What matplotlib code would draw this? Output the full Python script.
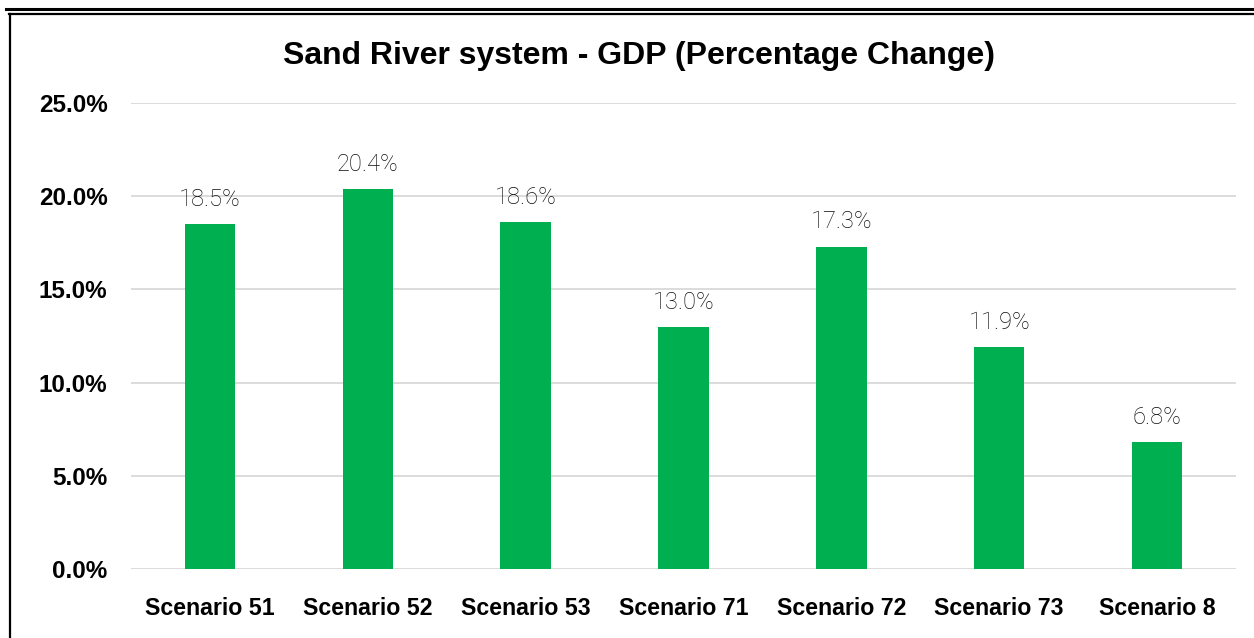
import matplotlib.pyplot as plt
from matplotlib.lines import Line2D
from matplotlib.ticker import FuncFormatter

scenarios = ['Scenario 51', 'Scenario 52', 'Scenario 53', 'Scenario 71',
             'Scenario 72', 'Scenario 73', 'Scenario 8']
gdp_change = [18.5, 20.4, 18.6, 13.0, 17.3, 11.9, 6.8]

fig = plt.figure(figsize=(12.54, 6.38), dpi=100)
ax = fig.add_axes([131 / 1254, 1 - 569 / 638, (1236 - 131) / 1254, (569 - 103) / 638])

x = range(len(scenarios))
bars = ax.bar(x, gdp_change, width=0.32, color='#00B050', zorder=3)

for xi, v in zip(x, gdp_change):
    ax.text(xi, v + 0.97, f'{v:.1f}%', ha='center', va='baseline',
            fontsize=17, family='Roboto', fontweight='light', color='#0d0d0d')

ax.set_xlim(-0.5, len(scenarios) - 0.5)
ax.set_ylim(0, 25)
ax.set_yticks([0, 5, 10, 15, 20, 25])
ax.yaxis.set_major_formatter(FuncFormatter(lambda v, p: f'{v:.1f}%'))
ax.set_xticks(list(x))
ax.set_xticklabels(scenarios)
ax.grid(axis='y', color='#d9d9d9', linewidth=1.3, zorder=0)
for s in ax.spines.values():
    s.set_visible(False)
ax.tick_params(length=0)
ax.tick_params(axis='y', pad=17)
ax.tick_params(axis='x', pad=20)
for lbl in ax.get_yticklabels():
    lbl.set_fontfamily('Liberation Sans')
    lbl.set_fontweight('bold')
    lbl.set_fontsize(17.5)
for lbl in ax.get_xticklabels():
    lbl.set_fontfamily('Liberation Sans')
    lbl.set_fontweight('bold')
    lbl.set_fontsize(16.7)

fig.text(639 / 1254, 1 - 56 / 638, 'Sand River system - GDP (Percentage Change)',
         ha='center', va='center', fontsize=23, fontweight='bold',
         family='Liberation Sans')

# outer frame lines
fig.add_artist(Line2D([6 / 1254, 1], [1 - 8.5 / 638] * 2, color='black', lw=2.2,
                      transform=fig.transFigure))
fig.add_artist(Line2D([9 / 1254, 1], [1 - 13.5 / 638] * 2, color='black', lw=1.6,
                      transform=fig.transFigure))
fig.add_artist(Line2D([10 / 1254] * 2, [0, 1 - 13.5 / 638], color='black', lw=1.6,
                      transform=fig.transFigure))

fig.savefig('out.png', dpi=100, facecolor='white')
